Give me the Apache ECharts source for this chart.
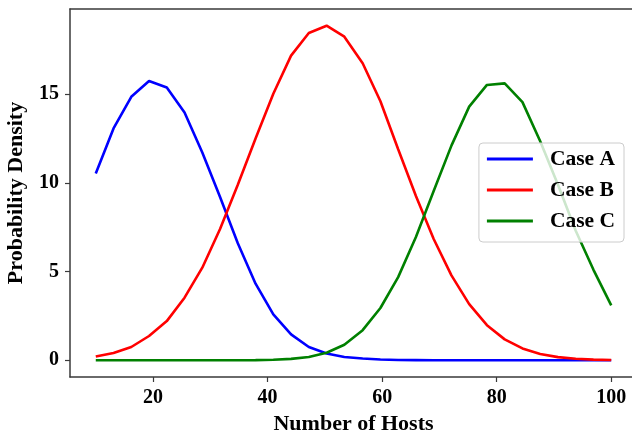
<!DOCTYPE html>
<html>
<head>
<meta charset="utf-8">
<script src="https://cdn.jsdelivr.net/npm/echarts@6/dist/echarts.min.js"></script>
<style>
html, body { margin: 0; padding: 0; background: #fff; }
#main { width: 632px; height: 436px; }
</style>
</head>
<body>
<div id="main"></div>
<script>
// x positions (number of hosts) shared by the three curves
var hosts = [10, 13.1, 16.2, 19.3, 22.4, 25.5, 28.6, 31.7, 34.8, 37.9, 41.0, 44.1, 47.2, 50.3, 53.4,
  56.6, 59.7, 62.8, 65.9, 69.0, 72.1, 75.2, 78.3, 81.4, 84.5, 87.6, 90.7, 93.8, 96.9, 100]
var caseA = [10.53, 13.07, 14.85, 15.74, 15.38, 13.97, 11.71, 9.2, 6.6, 4.32, 2.59, 1.46, 0.75, 0.38, 0.19,
  0.1, 0.05, 0.02, 0.01, 0, 0, 0, 0, 0, 0, 0, 0, 0, 0, 0]
var caseB = [0.22, 0.41, 0.75, 1.37, 2.21, 3.53, 5.22, 7.4, 9.9, 12.5, 15.02, 17.17, 18.45, 18.86, 18.24,
  16.74, 14.6, 11.9, 9.26, 6.84, 4.79, 3.17, 1.98, 1.18, 0.67, 0.36, 0.18, 0.09, 0.04, 0.02]
var caseC = [0, 0, 0, 0, 0, 0, 0, 0, 0, 0.01, 0.03, 0.08, 0.19, 0.43, 0.88,
  1.7, 2.95, 4.69, 6.95, 9.54, 12.1, 14.3, 15.52, 15.61, 14.55, 12.35, 9.9, 7.3, 5.1, 3.1]
var xTicks = [20, 40, 60, 80, 100]
var yTicks = [0, 5, 10, 15]

var serif = '"Liberation Serif", "DejaVu Serif", serif'
var spine = { show: true, onZero: false, lineStyle: { color: '#3a3a3a', width: 1.5 } }
var tickStyle = { color: '#3a3a3a', width: 1.2 }

function pairs(ys) {
  return hosts.map(function (x, i) { return [x, ys[i]] })
}

function lineSeries(name, ys, color) {
  return {
    name: name,
    type: 'line',
    data: pairs(ys),
    showSymbol: false,
    symbol: 'none',
    lineStyle: { color: color, width: 2.6 },
    itemStyle: { color: color },
    z: 2
  }
}

var chart = echarts.init(document.getElementById('main'), null, { renderer: 'canvas' })
chart.setOption({
  animation: false,
  backgroundColor: '#fff',
  grid: { left: 70, right: -5, top: 9, bottom: 59, outerBoundsMode: 'none', containLabel: false },
  xAxis: [{
    type: 'value',
    min: 5.5,
    max: 104.5,
    name: 'Number of Hosts',
    nameLocation: 'middle',
    nameGap: 36,
    nameTextStyle: { fontFamily: serif, fontWeight: 'bold', fontSize: 22, color: '#000' },
    axisLine: spine,
    axisTick: { show: true, customValues: xTicks, length: 5, lineStyle: tickStyle },
    axisLabel: { customValues: xTicks, margin: 11, fontFamily: serif, fontWeight: 'bold', fontSize: 20, color: '#000' },
    splitLine: { show: false }
  }, {
    type: 'value',
    position: 'top',
    min: 5.5,
    max: 104.5,
    axisLine: spine,
    axisTick: { show: false },
    axisLabel: { show: false },
    splitLine: { show: false }
  }],
  yAxis: {
    type: 'value',
    min: -0.94,
    max: 19.8,
    name: 'Probability Density',
    nameLocation: 'middle',
    nameGap: 43,
    nameTextStyle: { fontFamily: serif, fontWeight: 'bold', fontSize: 22, color: '#000' },
    axisLine: spine,
    axisTick: { show: true, customValues: yTicks, length: 5, lineStyle: tickStyle },
    axisLabel: { customValues: yTicks, margin: 11, fontFamily: serif, fontWeight: 'bold', fontSize: 20, color: '#000' },
    splitLine: { show: false }
  },
  legend: {
    data: ['Case A', 'Case B', 'Case C'],
    orient: 'vertical',
    right: 8,
    top: 143,
    padding: [5, 9, 10, 8],
    itemGap: 9,
    itemWidth: 46,
    itemHeight: 3,
    icon: 'rect',
    backgroundColor: 'rgba(255,255,255,0.8)',
    borderColor: '#cccccc',
    borderWidth: 1,
    borderRadius: 4,
    textStyle: { fontFamily: serif, fontWeight: 'bold', fontSize: 21.5, color: '#000', lineHeight: 20, padding: [0, 0, 0, 12] }
  },
  series: [
    lineSeries('Case A', caseA, '#0000ff'),
    lineSeries('Case B', caseB, '#ff0000'),
    lineSeries('Case C', caseC, '#008000')
  ]
})
</script>
</body>
</html>
